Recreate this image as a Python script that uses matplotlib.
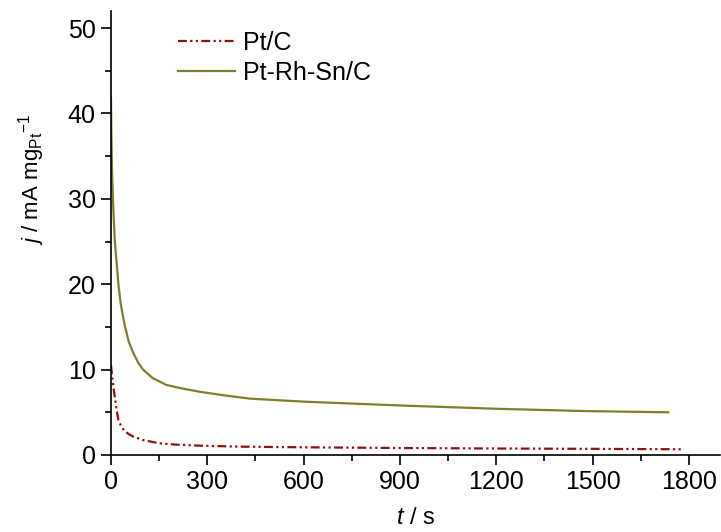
import matplotlib
matplotlib.use('Agg')
import matplotlib.pyplot as plt
from matplotlib.ticker import MultipleLocator

# Dados (cronoamperometria)
t_ptc = [0, 2, 5, 8, 12, 17, 23, 30, 40, 55, 70, 100, 150, 200, 280, 400, 600, 900, 1200, 1500, 1785]
j_ptc = [10.5, 9.8, 8.7, 7.8, 6.8, 5.4, 4.1, 3.5, 2.9, 2.45, 2.15, 1.75, 1.37, 1.22, 1.09, 0.98, 0.9, 0.82, 0.76, 0.72, 0.67]

t_prs = [0, 1, 3, 6, 9, 12, 15, 18, 23, 30, 37, 44, 55, 70, 85, 100, 130, 173, 220, 277, 350, 433, 600, 900, 1212, 1471, 1736]
j_prs = [41.8, 38.0, 33.5, 30.0, 27.3, 25.0, 23.6, 22.4, 20.0, 17.8, 16.3, 15.0, 13.3, 11.9, 10.8, 10.0, 9.0, 8.2, 7.8, 7.4, 7.0, 6.6, 6.25, 5.8, 5.4, 5.15, 5.0]

labels = ['Pt/C', 'Pt-Rh-Sn/C']
cores = ['#8b1010', '#7f7f2a']

plt.rcParams['font.family'] = ['Liberation Sans', 'DejaVu Sans']
plt.rcParams['mathtext.fontset'] = 'custom'
plt.rcParams['mathtext.rm'] = 'Liberation Sans'
plt.rcParams['mathtext.it'] = 'Liberation Sans:italic'

fig = plt.figure(figsize=(7.21, 5.32), dpi=100)
ax = fig.add_axes([111 / 721, 77 / 532, 609 / 721, 444 / 532])

ax.plot(t_ptc, j_ptc, color=cores[0], lw=1.6, dashes=(4, 1.5, 1, 1.5, 1, 1.5), label=labels[0])
ax.plot(t_prs, j_prs, color=cores[1], lw=1.6, label=labels[1])

ax.set_xlim(0, 1897)
ax.set_ylim(0, 52)
ax.xaxis.set_major_locator(MultipleLocator(300))
ax.xaxis.set_minor_locator(MultipleLocator(150))
ax.yaxis.set_major_locator(MultipleLocator(10))
ax.yaxis.set_minor_locator(MultipleLocator(5))
ax.tick_params(which='major', direction='out', length=7, width=1.2, labelsize=18, pad=4)
ax.tick_params(which='minor', direction='out', length=4.3, width=1.2)

for s in ['top', 'right']:
    ax.spines[s].set_visible(False)
for s in ['left', 'bottom']:
    ax.spines[s].set_linewidth(1.2)

ax.set_xlabel('$t$ / s', fontsize=17)
ax.xaxis.set_label_coords(0.5, -0.118)
ax.set_ylabel('$j$ / mA mg$_{\\mathrm{Pt}}{}^{-1}$', fontsize=16)
ax.yaxis.set_label_coords(-0.105, 0.62)

ax.legend(loc='upper left', bbox_to_anchor=(0.11, 0.955), frameon=False, fontsize=18,
          borderaxespad=0, borderpad=0, handlelength=2.3, handletextpad=0.3, labelspacing=0.25)

fig.savefig('out.png', dpi=100)
